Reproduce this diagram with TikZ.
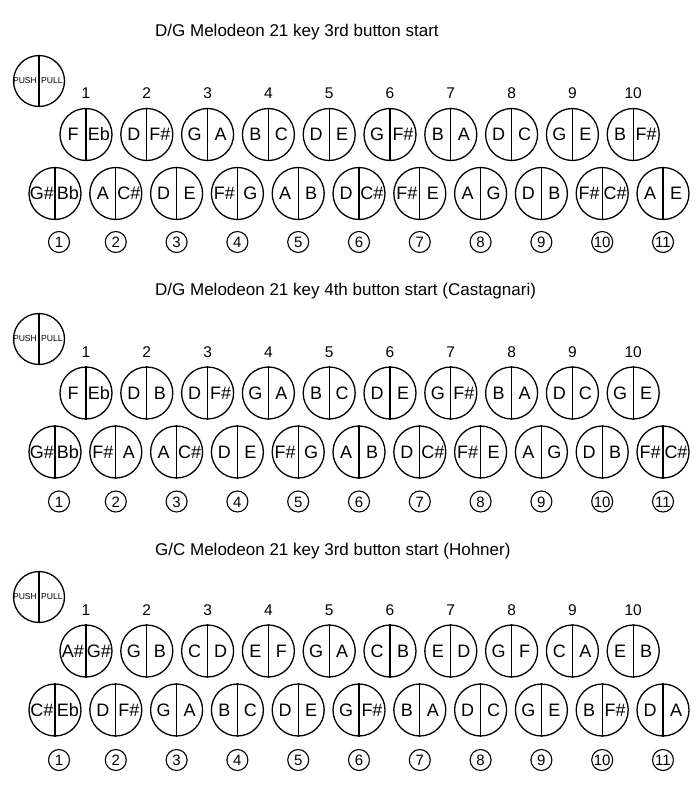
\documentclass[tikz,border=0pt]{standalone}
\usepackage{fontspec}
\setmainfont{Liberation Sans}

\tikzset{
  key/.style={circle, draw, line width=1.3pt, minimum size=52pt, inner sep=0pt},
  note/.style={font=\fontsize{18}{20}\selectfont, inner sep=0pt, anchor=base},
  keynum/.style={font=\fontsize{15.5}{17}\selectfont, inner sep=0pt, anchor=base},
  ring/.style={circle, draw, line width=1.1pt, minimum size=21pt, inner sep=0pt,
               text height=11pt, text depth=0pt, font=\fontsize{15}{16}\selectfont},
  title/.style={font=\fontsize{17}{20}\selectfont, anchor=west, inner sep=0pt},
  pp/.style={font=\fontsize{8.6}{10}\selectfont, inner sep=0pt},
}

% one split button: name, x, y, push note, pull note
\newcommand{\keybtn}[5]{%
  \node[key] (#1) at ({#2},{#3}) {};
  \draw[line width=1.3pt] (#1.north) -- (#1.south);
  \node[note] (#1l) at ([xshift=-13pt,yshift=-6.3pt]#1.center) {#4};
  \node[note] (#1r) at ([xshift=13pt,yshift=-6.3pt]#1.center) {#5};
}

% push/pull legend: name, x, y
\newcommand{\ppkey}[3]{%
  \node[key, minimum size=51pt] (#1) at ({#2},{#3}) {};
  \draw[line width=1.3pt] (#1.north) -- (#1.south);
  \node[pp] (#1l) at ([xshift=-14pt]#1.center) {PUSH};
  \node[pp] (#1r) at ([xshift=13pt]#1.center) {PULL};
}

\begin{document}
\begin{tikzpicture}[x=1pt, y=-1pt]
  \useasboundingbox (0,0) rectangle (700,801);

  % --- D/G, 3rd button start
  \node[title] (s1title) at (155,32) {D/G Melodeon 21 key 3rd button start};
  \ppkey{s1pp}{39}{81}
  \foreach \ps/\pl [count=\i] in {F/Eb,D/F\#,G/A,B/C,D/E,G/F\#,B/A,D/C,G/E,B/F\#} {
    \keybtn{s1t\i}{86+(\i-1)*60.8}{134.5}{\ps}{\pl}
    \node[keynum] (s1n\i) at ({86+(\i-1)*60.8},98.5) {\i};
  }
  \foreach \ps/\pl [count=\i] in {G\#/Bb,A/C\#,D/E,F\#/G,A/B,D/C\#,F\#/E,A/G,D/B,F\#/C\#,A/E} {
    \keybtn{s1b\i}{55+(\i-1)*60.8}{193.5}{\ps}{\pl}
    \node[ring] (s1c\i) at ({55+(\i-1)*60.8+(\i==1)*4},242) {\i};
  }

  % --- D/G, 4th button start (Castagnari)
  \node[title] (s2title) at (155,291.5) {D/G Melodeon 21 key 4th button start (Castagnari)};
  \ppkey{s2pp}{39}{339}
  \foreach \ps/\pl [count=\i] in {F/Eb,D/B,D/F\#,G/A,B/C,D/E,G/F\#,B/A,D/C,G/E} {
    \keybtn{s2t\i}{86+(\i-1)*60.8}{393}{\ps}{\pl}
    \node[keynum] (s2n\i) at ({86+(\i-1)*60.8},357.5) {\i};
  }
  \foreach \ps/\pl [count=\i] in {G\#/Bb,F\#/A,A/C\#,D/E,F\#/G,A/B,D/C\#,F\#/E,A/G,D/B,F\#/C\#} {
    \keybtn{s2b\i}{55+(\i-1)*60.8}{452}{\ps}{\pl}
    \node[ring] (s2c\i) at ({55+(\i-1)*60.8+(\i==1)*4},501.5) {\i};
  }

  % --- G/C, 3rd button start (Hohner)
  \node[title] (s3title) at (155,551.5) {G/C Melodeon 21 key 3rd button start (Hohner)};
  \ppkey{s3pp}{39}{597}
  \foreach \ps/\pl [count=\i] in {A\#/G\#,G/B,C/D,E/F,G/A,C/B,E/D,G/F,C/A,E/B} {
    \keybtn{s3t\i}{86+(\i-1)*60.8}{651}{\ps}{\pl}
    \node[keynum] (s3n\i) at ({86+(\i-1)*60.8},615.5) {\i};
  }
  \foreach \ps/\pl [count=\i] in {C\#/Eb,D/F\#,G/A,B/C,D/E,G/F\#,B/A,D/C,G/E,B/F\#,D/A} {
    \keybtn{s3b\i}{55+(\i-1)*60.8}{710}{\ps}{\pl}
    \node[ring] (s3c\i) at ({55+(\i-1)*60.8+(\i==1)*4},760) {\i};
  }
\end{tikzpicture}
\end{document}
